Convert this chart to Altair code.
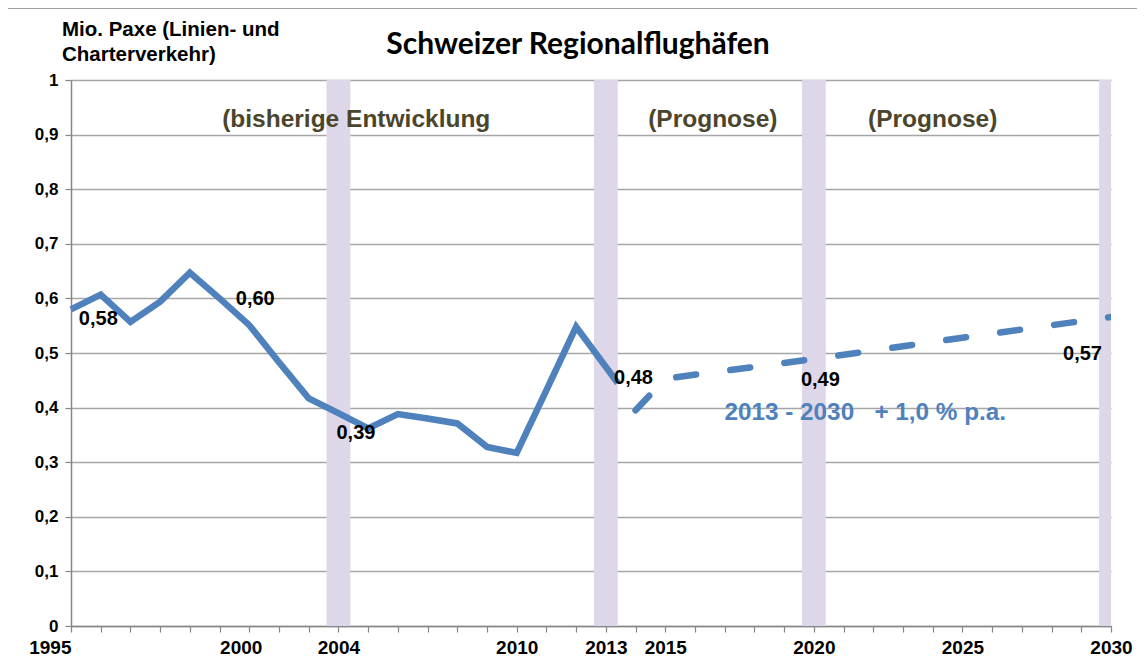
import altair as alt
import pandas as pd

# ---- data ----
hist_years = [1995, 1996, 1997, 1998, 1999, 2000, 2001, 2002, 2003, 2004,
              2005, 2006, 2007, 2008, 2009, 2010, 2011, 2012, 2013.4]
hist_vals = [0.58, 0.607, 0.557, 0.594, 0.647, 0.600, 0.551, 0.483, 0.417, 0.39,
             0.362, 0.388, 0.38, 0.371, 0.328, 0.317, 0.432, 0.548, 0.445]

fc_years = [2014, 2015, 2020, 2025, 2030]
fc_vals = [0.395, 0.453, 0.489, 0.528, 0.566]

band_years = [2004, 2013, 2020, 2030]

value_text = ["0,58", "0,60", "0,39", "0,48", "0,49", "0,57"]
value_x = [1995.92, 2001.2, 2004.59, 2013.93, 2020.22, 2029.04]
value_y = [0.563, 0.599, 0.353, 0.455, 0.45, 0.499]

phase_text = ["(bisherige Entwicklung", "(Prognose)", "(Prognose)"]
phase_x = [2004.6, 2016.6, 2024.0]
phase_y = [0.927, 0.927, 0.927]

growth_text = ["2013 - 2030\u00a0\u00a0\u00a0+ 1,0 % p.a."]
growth_x = [2021.73]
growth_y = [0.39]

title_text = ["Schweizer Regionalflughäfen"]
ytitle_lines = ["Mio. Paxe (Linien- und", "Charterverkehr)"]

tick_years = list(range(1995, 2031))
label_years = [1995, 2000, 2004, 2010, 2013, 2015, 2020, 2025, 2030]
y_ticks = [0, 0.1, 0.2, 0.3, 0.4, 0.5, 0.6, 0.7, 0.8, 0.9, 1.0]

# ---- styling ----
FONT = "Liberation Sans"
BLUE = "#4F81BD"
OLIVE = "#4B452C"
BAND = "#DDD7E9"
GRID = "#A6A6A6"

xscale = alt.Scale(domain=[1995, 2030], nice=False, zero=False)
yscale = alt.Scale(domain=[0, 1], nice=False, zero=True)

label_expr = ("indexof([" + ",".join(str(v) for v in label_years)
              + "], datum.value) >= 0 ? datum.value + '' : ''")

x_axis = alt.Axis(
    values=tick_years, labelExpr=label_expr, title=None, grid=False,
    domainColor="#868686", domainWidth=1.5, tickColor="#868686", tickWidth=1.2,
    tickSize=6, labelFont=FONT, labelFontSize=19, labelFontWeight="bold",
    labelColor="black", labelPadding=6, labelOverlap=False, labelFlush=False,
    labelAlign={"condition": [{"test": "datum.value == 1995", "value": "right"},
                              {"test": "datum.value == 2000", "value": "left"}],
                "value": "center"},
)
y_axis = alt.Axis(
    values=y_ticks,
    labelExpr="datum.value == 0 ? '0' : datum.value == 1 ? '1' : replace(format(datum.value, '.1f'), '.', ',')",
    grid=True, gridColor=GRID, gridWidth=1.3,
    domainColor="#868686", domainWidth=1.5, tickColor="#868686", tickWidth=1.2,
    tickSize=6, labelFont=FONT, labelFontSize=17, labelFontWeight="bold",
    labelColor="black", labelPadding=7, title=None,
)

bands_df = pd.DataFrame({"year": band_years})
hist_df = pd.DataFrame({"x": hist_years, "v": hist_vals})
fc_df = pd.DataFrame({"x": fc_years, "v": fc_vals})
val_df = pd.DataFrame({"x": value_x, "v": value_y, "t": value_text})
phase_df = pd.DataFrame({"x": phase_x, "v": phase_y, "t": phase_text})
growth_df = pd.DataFrame({"x": growth_x, "v": growth_y, "t": growth_text})
title_df = pd.DataFrame({"t": title_text})
ytitle_df = pd.DataFrame({"t": [ytitle_lines]})

X = alt.X("x:Q", scale=xscale, axis=x_axis)
Y = alt.Y("v:Q", scale=yscale, axis=y_axis)

bands = alt.Chart(bands_df).transform_calculate(
    x="datum.year - 0.4", x2="datum.year + 0.4"
).mark_rect(color=BAND, clip=True).encode(
    x=X, x2="x2:Q",
    y=alt.value(0), y2=alt.value(546),
)

hist = alt.Chart(hist_df).mark_line(color=BLUE, strokeWidth=6.5).encode(x=X, y=Y)

fc = alt.Chart(fc_df).mark_line(color=BLUE, strokeWidth=6.5, strokeDash=[20, 34.5],
                                strokeCap="round", clip=True).encode(x=X, y=Y)

vals = alt.Chart(val_df).mark_text(font=FONT, fontSize=20, fontWeight="bold",
                                   color="black", baseline="middle").encode(
    x=X, y=Y, text="t:N")

phases = alt.Chart(phase_df).mark_text(font=FONT, fontSize=24.5, fontWeight="bold",
                                       color=OLIVE, baseline="middle").encode(
    x=X, y=Y, text="t:N")

growth = alt.Chart(growth_df).mark_text(font=FONT, fontSize=24.3, fontWeight="bold",
                                        color=BLUE, baseline="middle").encode(
    x=X, y=Y, text="t:N")

title = alt.Chart(title_df).mark_text(font="Lato", fontSize=30, fontWeight="bold",
                                      color="black", baseline="alphabetic",
                                      align="center").encode(
    x=alt.value(507), y=alt.value(-26), text="t:N")

ytitle = alt.Chart(ytitle_df).mark_text(font=FONT, fontSize=20.5, fontWeight="bold",
                                        color="black", baseline="top", align="left",
                                        lineHeight=25).encode(
    x=alt.value(-9), y=alt.value(-60), text="t")

frame = alt.Chart(bands_df).mark_rect(fill=None, stroke="#9A9A9A", strokeWidth=1,
                                      clip=False).encode(
    x=alt.value(-64), x2=alt.value(1070), y=alt.value(-72), y2=alt.value(640),
)

chart = alt.layer(frame, bands, hist, fc, vals, phases, growth, title, ytitle).properties(
    width=1040, height=546,
    autosize=alt.AutoSizeParams(type="none"),
    padding={"left": 63, "top": 72, "right": 26, "bottom": 34},
).configure_view(strokeWidth=0)

chart.save("out.html", embed_options={"renderer": "svg", "actions": False})
